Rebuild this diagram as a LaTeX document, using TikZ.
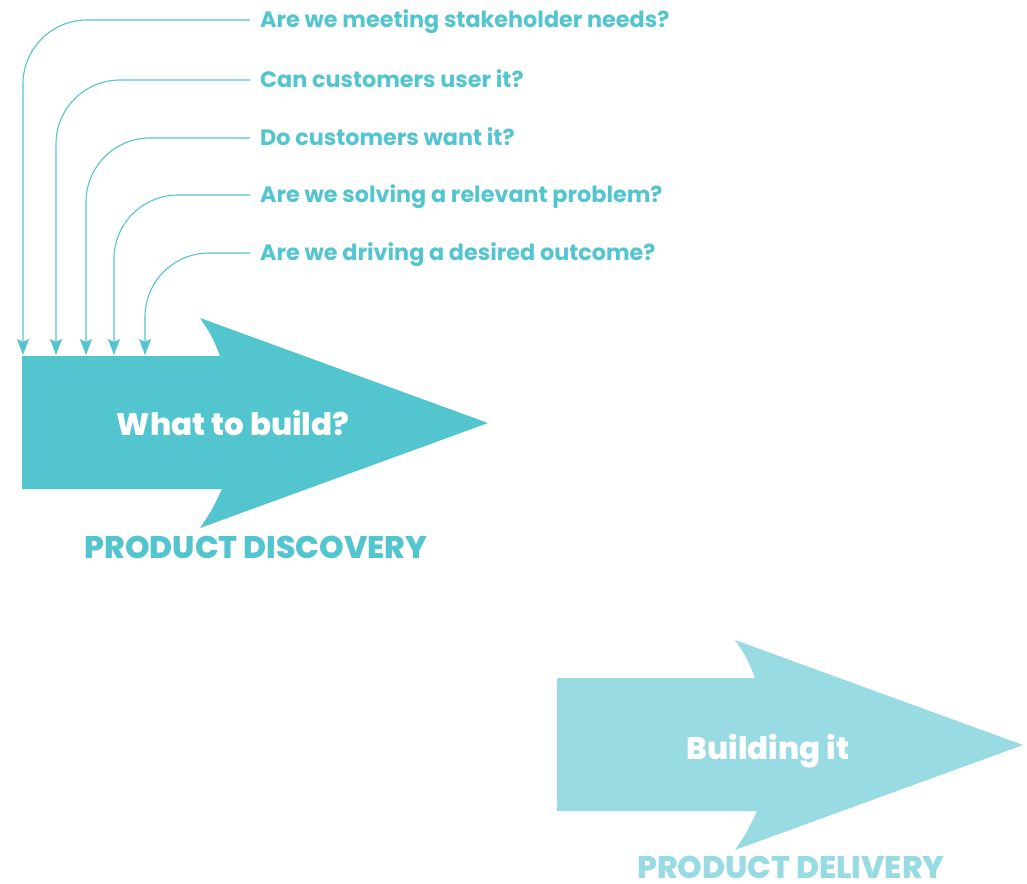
\documentclass[tikz,border=0pt]{standalone}
\usepackage{fontspec}
\setmainfont{Poppins}
\newfontfamily\heavyfont{Poppins ExtraBold}
\usetikzlibrary{arrows.meta}
\definecolor{teal1}{RGB}{83,197,207}
\definecolor{teal2}{RGB}{152,219,226}
\begin{document}
\begin{tikzpicture}[x=1pt,y=-1pt,
  question/.style={anchor=west,inner sep=0pt,text height=15.6pt,text depth=0pt,
    text=teal1,font=\fontsize{22.3}{22.3}\selectfont\bfseries},
  inlabel/.style={inner sep=0pt,text height=21.9pt,text depth=0pt,text=white,
    font=\fontsize{31}{31}\selectfont\heavyfont},
  caption/.style={inner sep=0pt,text height=22pt,text depth=0pt,
    font=\fontsize{31.3}{31.3}\selectfont\heavyfont},
  conn/.style={draw=teal1,line width=1.1pt,rounded corners=64pt,
    -{Stealth[length=16pt,width=12pt,inset=3pt]}}]
\useasboundingbox (0,0) rectangle (1027,883);
% big arrows
\fill[teal1] (22,356) -- (220,356) .. controls (212,336) .. (200,318) -- (488,423)
  -- (200,528) .. controls (212,510) .. (222,489) -- (22,489) -- cycle;
\fill[teal2] (557,678) -- (755,678) .. controls (747,658) .. (735,640) -- (1023,745)
  -- (735,850) .. controls (747,832) .. (757,811) -- (557,811) -- cycle;
% labels
\node[inlabel] (what) at (233,425) {What to build?};
\node[caption,text=teal1] (disc) at (256,547) {PRODUCT DISCOVERY};
\node[inlabel] (build) at (768,748.5) {Building it};
\node[caption,text=teal2] (deliv) at (791,867) {PRODUCT DELIVERY};
% questions
\node[question] (q1) at (260,20) {Are we meeting stakeholder needs?};
\node[question] (q2) at (260,80) {Can customers user it?};
\node[question] (q3) at (260,138) {Do customers want it?};
\node[question] (q4) at (260,195) {Are we solving a relevant problem?};
\node[question] (q5) at (260,253) {Are we driving a desired outcome?};
% targets
\coordinate (t1) at (23,355);
\coordinate (t2) at (56,355);
\coordinate (t3) at (86,355);
\coordinate (t4) at (114,355);
\coordinate (t5) at (145,355);
\foreach \i in {1,...,5}{
  \draw[conn] ([xshift=-10pt]q\i.west) -| (t\i);
}
\end{tikzpicture}
\end{document}
